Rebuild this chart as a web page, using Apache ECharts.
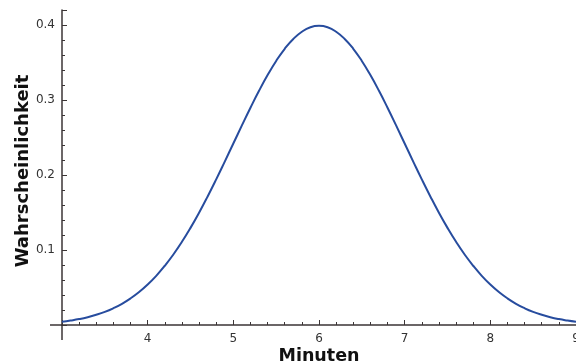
<!DOCTYPE html>
<html>
<head>
<meta charset="utf-8">
<script src="https://cdn.jsdelivr.net/npm/echarts@6/dist/echarts.min.js"></script>
<style>
  html, body { margin: 0; padding: 0; background: #fff; }
  #chart { width: 576px; height: 363px; }
</style>
</head>
<body>
<div id="chart"></div>
<script>
// Minuten (x) und Wahrscheinlichkeit (y)
var minuten = [3.0, 3.1, 3.2, 3.3, 3.4, 3.5, 3.6, 3.7, 3.8, 3.9,
               4.0, 4.1, 4.2, 4.3, 4.4, 4.5, 4.6, 4.7, 4.8, 4.9,
               5.0, 5.1, 5.2, 5.3, 5.4, 5.5, 5.6, 5.7, 5.8, 5.9,
               6.0, 6.1, 6.2, 6.3, 6.4, 6.5, 6.6, 6.7, 6.8, 6.9,
               7.0, 7.1, 7.2, 7.3, 7.4, 7.5, 7.6, 7.7, 7.8, 7.9,
               8.0, 8.1, 8.2, 8.3, 8.4, 8.5, 8.6, 8.7, 8.8, 8.9, 9.0];
var wahrscheinlichkeit = [0.0044, 0.0060, 0.0079, 0.0104, 0.0136, 0.0175, 0.0224, 0.0283, 0.0355, 0.0440,
                          0.0540, 0.0656, 0.0790, 0.0940, 0.1109, 0.1295, 0.1497, 0.1714, 0.1942, 0.2179,
                          0.2420, 0.2661, 0.2897, 0.3123, 0.3332, 0.3521, 0.3683, 0.3814, 0.3910, 0.3970,
                          0.3989, 0.3970, 0.3910, 0.3814, 0.3683, 0.3521, 0.3332, 0.3123, 0.2897, 0.2661,
                          0.2420, 0.2179, 0.1942, 0.1714, 0.1497, 0.1295, 0.1109, 0.0940, 0.0790, 0.0656,
                          0.0540, 0.0440, 0.0355, 0.0283, 0.0224, 0.0175, 0.0136, 0.0104, 0.0079, 0.0060, 0.0044];
var xTicks = [3, 4, 5, 6, 7, 8, 9];
var yTicks = [0, 0.1, 0.2, 0.3, 0.4];

var axisColor = '#3b3536';
var points = minuten.map(function (m, i) { return [m, wahrscheinlichkeit[i]]; });

var mychart = echarts.init(document.getElementById('chart'));
mychart.setOption({
    animation: false,
    grid: { left: 62, right: 0, top: 10, bottom: 38, outerBoundsMode: 'none', containLabel: false },
    xAxis: {
        type: 'value',
        min: 3,
        max: 9,
        interval: 1,
        name: 'Minuten',
        nameLocation: 'middle',
        nameGap: 22,
        nameMoveOverlap: false,
        nameTextStyle: { fontFamily: 'DejaVu Sans', fontWeight: 'bold', fontSize: 17.5, color: '#111' },
        axisLine: { show: true, onZero: false, lineStyle: { color: axisColor, width: 1.5 } },
        axisTick: { show: true, inside: true, length: 5, lineStyle: { color: axisColor } },
        minorTick: { show: true, splitNumber: 5, length: 3, lineStyle: { color: axisColor } },
        axisLabel: {
            fontFamily: 'DejaVu Sans', fontSize: 12, color: '#333', margin: 8,
            formatter: function (v) { return xTicks.indexOf(v) > 0 ? String(v) : ''; }
        },
        splitLine: { show: false }
    },
    yAxis: {
        type: 'value',
        min: 0,
        max: 0.42,
        interval: 0.1,
        name: 'Wahrscheinlichkeit',
        nameLocation: 'middle',
        nameGap: 30,
        nameMoveOverlap: false,
        nameTextStyle: { fontFamily: 'DejaVu Sans', fontWeight: 'bold', fontSize: 18, color: '#111', padding: [0, 7, 0, 0] },
        axisLine: { show: true, lineStyle: { color: axisColor, width: 1.5 } },
        axisTick: { show: true, inside: true, length: 5, lineStyle: { color: axisColor } },
        minorTick: { show: true, splitNumber: 5, length: 3, lineStyle: { color: axisColor } },
        axisLabel: {
            fontFamily: 'DejaVu Sans', fontSize: 12, color: '#333', margin: 7, showMaxLabel: false,
            formatter: function (v) {
                for (var i = 1; i < yTicks.length; i++) {
                    if (Math.abs(v - yTicks[i]) < 1e-9) return yTicks[i].toFixed(1);
                }
                return '';
            }
        },
        splitLine: { show: false }
    },
    graphic: [
        // kurze Verlaengerungen der Achsenlinien
        { type: 'line', shape: { x1: 50, y1: 325, x2: 62, y2: 325 }, style: { stroke: axisColor, lineWidth: 1.5 } },
        { type: 'line', shape: { x1: 62, y1: 325, x2: 62, y2: 340 }, style: { stroke: axisColor, lineWidth: 1.5 } }
    ],
    series: [{
        type: 'line',
        data: points,
        smooth: true,
        symbol: 'none',
        lineStyle: { color: '#274c9e', width: 2 }
    }]
});
</script>
</body>
</html>
